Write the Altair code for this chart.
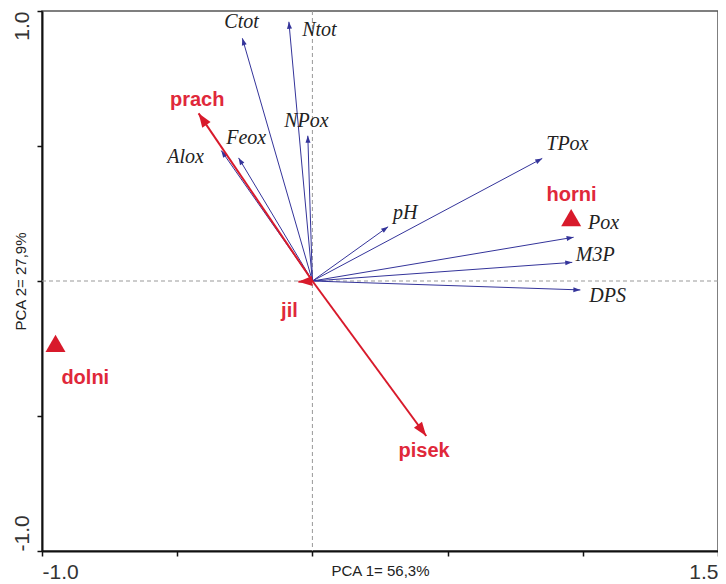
import altair as alt
import pandas as pd

# Soil variables (blue arrows): PCA loadings
variables = ["Ctot", "Ntot", "NPox", "Feox", "Alox", "TPox", "pH", "Pox", "M3P", "DPS"]
var_x = [-0.259, -0.087, -0.017, -0.273, -0.337, 0.850, 0.280, 0.966, 0.961, 0.991]
var_y = [0.899, 0.960, 0.538, 0.456, 0.483, 0.454, 0.201, 0.162, 0.069, -0.033]
var_label_x = [-0.262, 0.026, -0.022, -0.245, -0.469, 0.943, 0.343, 1.077, 1.046, 1.092]
var_label_y = [0.961, 0.928, 0.594, 0.530, 0.459, 0.507, 0.252, 0.215, 0.096, -0.056]

# Texture variables (red arrows)
env_names = ["prach", "pisek", "jil"]
env_x = [-0.421, 0.421, -0.052]
env_y = [0.621, -0.574, -0.003]
env_label_x = [-0.426, 0.413, -0.085]
env_label_y = [0.670, -0.630, -0.111]

# Sites (red triangles)
sites = ["horni", "dolni"]
site_x = [0.957, -0.950]
site_y = [0.235, -0.231]
site_label_x = [0.958, -0.840]
site_label_y = [0.317, -0.359]

BLUE = "#34349a"
RED = "#d81a2b"

vars_df = pd.DataFrame({"name": variables, "x": var_x, "y": var_y})
env_df = pd.DataFrame({"name": env_names, "x": env_x, "y": env_y})
site_df = pd.DataFrame({"name": sites, "x": site_x, "y": site_y})
var_lab = pd.DataFrame({"name": variables, "x": var_label_x, "y": var_label_y})
red_lab = pd.DataFrame({"name": env_names + sites,
                        "x": env_label_x + site_label_x,
                        "y": env_label_y + site_label_y})

x_scale = alt.Scale(domain=[-1, 1.5], nice=False, zero=False)
y_scale = alt.Scale(domain=[-1, 1], nice=False, zero=False)

x_axis = alt.Axis(
    title="PCA 1= 56,3%", values=[-1, -0.5, 0, 0.5, 1, 1.5],
    labelExpr="datum.value == -1 ? '-1.0' : (datum.value == 1.5 ? '1.5' : '')",
    labelFlush=True, labelOverlap=False, grid=False,
    labelFont="Liberation Sans", labelFontSize=21, labelColor="#333",
    labelPadding=5,
    titleFont="Liberation Sans", titleFontSize=15, titleFontWeight="normal",
    titleColor="#222", titleX=338, titleY=19, titleBaseline="middle",
    titleAlign="center",
)
y_axis = alt.Axis(
    title="PCA 2= 27,9%", values=[-1, -0.5, 0, 0.5, 1],
    labelExpr="datum.value == 1 ? '1.0' : (datum.value == -1 ? '-1.0' : '')",
    labelAngle=270, labelBaseline="bottom",
    labelAlign={"condition": {"test": "datum.value > 0", "value": "right"}, "value": "left"},
    labelFlush=False, labelOverlap=False, grid=False,
    labelFont="Liberation Sans", labelFontSize=21, labelColor="#333",
    labelPadding=5,
    titleFont="Liberation Sans", titleFontSize=15, titleFontWeight="normal",
    titleColor="#222", titleAngle=270, titleX=-22, titleY=270,
    titleBaseline="middle", titleAlign="center",
)


def X(field):
    return alt.X(field, type="quantitative", scale=x_scale, axis=x_axis)


def Y(field):
    return alt.Y(field, type="quantitative", scale=y_scale, axis=y_axis)


zero_v = alt.Chart(pd.DataFrame({"v": [0]})).mark_rule(
    color="#999", strokeDash=[4, 3], strokeWidth=1
).encode(x=X("v"))
zero_h = alt.Chart(pd.DataFrame({"v": [0]})).mark_rule(
    color="#999", strokeDash=[4, 3], strokeWidth=1
).encode(y=Y("v"))

angle_expr = "((450 - atan2(datum.y, datum.x) * 180 / PI) % 360 + 360) % 360"
HEAD = "M0,0L-1,2.8L1,2.8Z"


def arrows(df, color, width, head_size):
    base = alt.Chart(df).transform_calculate(x0="0", y0="0", ang=angle_expr)
    line = base.mark_rule(color=color, strokeWidth=width).encode(
        x=X("x0"), y=Y("y0"), x2="x:Q", y2="y:Q"
    )
    head = base.mark_point(shape=HEAD, filled=True, color=color, opacity=1,
                           size=head_size, strokeWidth=0).encode(
        x=X("x"), y=Y("y"), angle=alt.Angle("ang:Q", scale=None)
    )
    return line + head


blue = arrows(vars_df, BLUE, 1, 25)
red = arrows(env_df, RED, 2, 100)

tri = alt.Chart(site_df).mark_point(
    shape="triangle-up", filled=True, color=RED, opacity=1, size=400, strokeWidth=0
).encode(x=X("x"), y=Y("y"))

var_text = alt.Chart(var_lab).mark_text(
    font="Liberation Serif", fontStyle="italic", fontSize=20, color="#222",
    align="center", baseline="middle"
).encode(x=X("x"), y=Y("y"), text="name:N")

red_text = alt.Chart(red_lab).mark_text(
    font="Liberation Sans", fontWeight="bold", fontSize=20, color="#e0283a",
    align="center", baseline="middle"
).encode(x=X("x"), y=Y("y"), text="name:N")

chart = alt.layer(zero_v, zero_h, blue, red, tri, var_text, red_text).properties(
    width=676, height=540,
    padding={"left": 34, "top": 3, "right": 0, "bottom": 30},
    autosize="none",
).configure_view(
    stroke="#555", strokeWidth=1.5
).configure_axis(
    domainColor="#111", domainWidth=2, tickColor="#111", tickWidth=1.5, tickSize=5
)

chart.save("out.html", embed_options={"renderer": "svg", "actions": False})
